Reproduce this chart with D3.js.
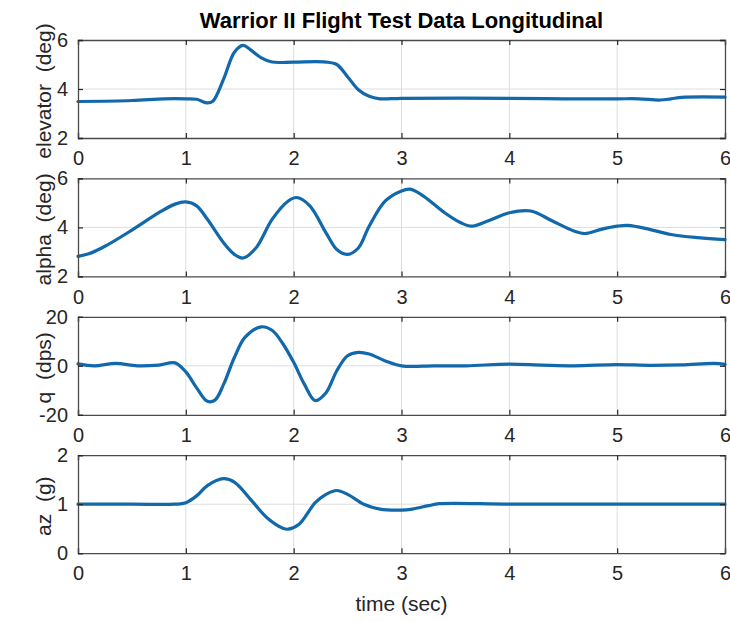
<!DOCTYPE html>
<html>
<head>
<meta charset="utf-8">
<script src="https://cdn.jsdelivr.net/npm/d3@7"></script>
<style>
  html, body { margin: 0; padding: 0; background: #fff; }
  svg { display: block; }
  text { font-family: "Liberation Sans", Arial, Helvetica, sans-serif; fill: #262626; }
</style>
</head>
<body>
<svg id="chart" width="730" height="621"></svg>
<script>
// ---- Flight test records (time in seconds) ----
const titleText = "Warrior II Flight Test Data Longitudinal";
const xLabelText = "time (sec)";
const xTicks = [0, 1, 2, 3, 4, 5, 6];

const elevTime = [0, 0.5, 0.8, 1.0, 1.1, 1.2, 1.25, 1.35, 1.45, 1.53, 1.6, 1.7, 1.8, 2.0, 2.3, 2.4, 2.5, 2.6, 2.7, 2.8, 3.0, 4.0, 4.5, 5.0, 5.2, 5.4, 5.5, 5.6, 6.0];
const elevDeg  = [3.49, 3.53, 3.6, 3.6, 3.58, 3.43, 3.5, 4.4, 5.5, 5.78, 5.6, 5.27, 5.1, 5.1, 5.1, 5.0, 4.5, 3.97, 3.7, 3.6, 3.62, 3.62, 3.6, 3.6, 3.6, 3.55, 3.6, 3.66, 3.67];

const alphaTime = [0, 0.1, 0.25, 0.5, 0.75, 0.9, 1.0, 1.1, 1.2, 1.35, 1.45, 1.53, 1.65, 1.8, 1.95, 2.03, 2.15, 2.3, 2.4, 2.5, 2.6, 2.7, 2.85, 3.0, 3.08, 3.2, 3.4, 3.55, 3.65, 3.8, 4.0, 4.2, 4.4, 4.6, 4.7, 4.85, 5.0, 5.1, 5.3, 5.5, 5.75, 6.0];
const alphaDeg  = [2.82, 2.92, 3.23, 3.89, 4.6, 4.95, 5.04, 4.88, 4.33, 3.37, 2.9, 2.75, 3.16, 4.33, 5.08, 5.22, 4.88, 3.78, 3.1, 2.9, 3.16, 4.05, 5.08, 5.49, 5.56, 5.29, 4.6, 4.19, 4.05, 4.26, 4.6, 4.67, 4.26, 3.85, 3.75, 3.92, 4.05, 4.08, 3.92, 3.71, 3.58, 3.5];

const qTime = [0, 0.15, 0.35, 0.55, 0.75, 0.9, 1.0, 1.1, 1.2, 1.27, 1.35, 1.45, 1.55, 1.7, 1.8, 1.9, 2.0, 2.1, 2.2, 2.3, 2.4, 2.5, 2.6, 2.7, 2.85, 3.0, 3.3, 3.6, 4.0, 4.3, 4.6, 5.0, 5.3, 5.6, 5.9, 6.0];
const qDps  = [0.8, 0, 1, 0, 0.3, 1.2, -2.5, -9, -14.5, -14, -7.6, 3.4, 11.7, 15.9, 14.5, 9, 1.4, -7.6, -14.2, -11, -2, 4.1, 5.5, 4.8, 2, 0, 0, 0, 0.7, 0.3, 0, 0.5, 0.2, 0.4, 1.0, 0.6];

const azTime = [0, 0.5, 0.9, 1.0, 1.1, 1.2, 1.35, 1.45, 1.6, 1.75, 1.9, 1.95, 2.05, 2.2, 2.3, 2.4, 2.5, 2.65, 2.8, 3.0, 3.1, 3.25, 3.35, 4.0, 5.0, 6.0];
const azG    = [1.0, 1.0, 1.0, 1.03, 1.17, 1.38, 1.52, 1.45, 1.1, 0.73, 0.51, 0.49, 0.59, 1.03, 1.2, 1.28, 1.2, 1.0, 0.9, 0.88, 0.9, 0.97, 1.01, 1.0, 1.0, 1.0];

const panelLabels = ["elevator  (deg)", "alpha  (deg)", "q  (dps)", "az  (g)"];
const panelTicks  = [[2, 4, 6], [2, 4, 6], [-20, 0, 20], [0, 1, 2]];
const panelTimes  = [elevTime, alphaTime, qTime, azTime];
const panelValues = [elevDeg, alphaDeg, qDps, azG];

// ---- Layout ----
const svg = d3.select("#chart");
const left = 78, right = 725;
const firstTop = 40, panelStep = 138.4, panelH = 98;
const tickLen = 5;

const x = d3.scaleLinear().domain([0, 6]).range([left, right]);
const plainNumber = d => String(d);   // ASCII hyphen for negatives

svg.append("text")
  .attr("x", (left + right) / 2)
  .attr("y", 28)
  .attr("text-anchor", "middle")
  .style("font-size", "22px")
  .style("font-weight", "bold")
  .style("fill", "#000")
  .text(titleText);

panelLabels.forEach((label, i) => {
  const top = firstTop + i * panelStep;
  const bottom = top + panelH;
  const yt = panelTicks[i];
  const y = d3.scaleLinear().domain([yt[0], yt[yt.length - 1]]).range([bottom, top]);
  const g = svg.append("g");

  // grid lines
  g.selectAll(".gx").data(xTicks.slice(1, -1)).join("line")
    .attr("x1", d => x(d)).attr("x2", d => x(d))
    .attr("y1", top).attr("y2", bottom)
    .attr("stroke", "#dedede").attr("stroke-width", 1);
  g.selectAll(".gy").data(yt.slice(1, -1)).join("line")
    .attr("x1", left).attr("x2", right)
    .attr("y1", d => y(d)).attr("y2", d => y(d))
    .attr("stroke", "#dedede").attr("stroke-width", 1);

  // data trace
  const pts = panelTimes[i].map((t, k) => [t, panelValues[i][k]]);
  const line = d3.line()
    .x(d => x(d[0]))
    .y(d => y(d[1]))
    .curve(d3.curveCatmullRom.alpha(0.5));
  g.append("path")
    .attr("d", line(pts))
    .attr("fill", "none")
    .attr("stroke", "#1168aa")
    .attr("stroke-width", 3.2)
    .attr("stroke-linejoin", "round")
    .attr("stroke-linecap", "round");

  // axes with inward ticks on all four sides
  const axB = d3.axisBottom(x).tickValues(xTicks).tickSize(-tickLen).tickPadding(14).tickFormat(plainNumber);
  const axT = d3.axisTop(x).tickValues(xTicks).tickSize(-tickLen).tickFormat("");
  const axL = d3.axisLeft(y).tickValues(yt).tickSize(-tickLen).tickPadding(14).tickFormat(plainNumber);
  const axR = d3.axisRight(y).tickValues(yt).tickSize(-tickLen).tickFormat("");

  const styleAxis = sel => {
    sel.select(".domain").attr("stroke", "#4a4a4a").attr("stroke-width", 1.3);
    sel.selectAll(".tick line").attr("stroke", "#262626").attr("stroke-width", 1.2);
    sel.selectAll(".tick text").style("font-size", "20px").style("fill", "#262626")
      .attr("font-family", null);
  };

  g.append("g").attr("transform", `translate(0,${bottom})`).call(axB).call(styleAxis)
    .selectAll(".tick text").attr("dy", "0.66em");
  g.append("g").attr("transform", `translate(0,${top})`).call(axT).call(styleAxis);
  g.append("g").attr("transform", `translate(${left},0)`).call(axL).call(styleAxis)
    .selectAll(".tick text").attr("dx", "4px");
  g.append("g").attr("transform", `translate(${right},0)`).call(axR).call(styleAxis);

  // y-axis label
  g.append("text")
    .attr("transform", `translate(51,${(top + bottom) / 2 + 2}) rotate(-90)`)
    .attr("text-anchor", "middle")
    .style("font-size", "21px")
    .style("white-space", "pre")
    .attr("xml:space", "preserve")
    .text(label);
});

svg.append("text")
  .attr("x", (left + right) / 2)
  .attr("y", 611)
  .attr("text-anchor", "middle")
  .style("font-size", "21px")
  .text(xLabelText);
</script>
</body>
</html>
